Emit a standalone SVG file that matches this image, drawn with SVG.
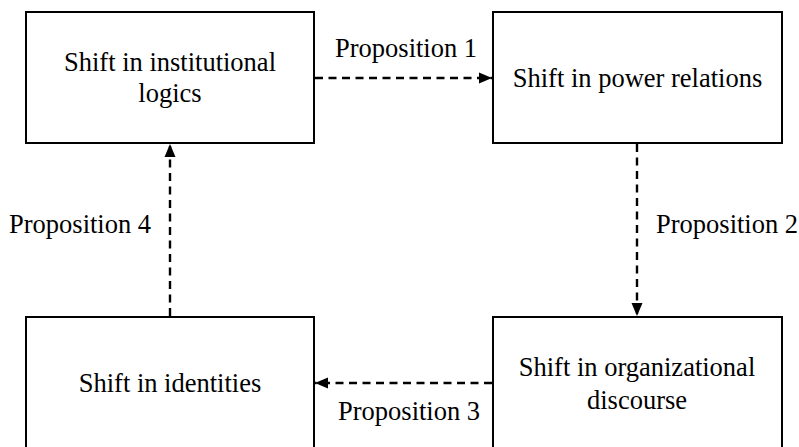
<svg xmlns="http://www.w3.org/2000/svg" width="799" height="447" viewBox="0 0 799 447">
<style>
.box{fill:#fff;stroke:#000;stroke-width:2}
.t{font-family:"Liberation Serif","Times New Roman",serif;font-size:26.5px;fill:#000}
.c{text-anchor:middle}
.e{stroke:#000;stroke-width:2.4;stroke-dasharray:8 5.5;fill:none}
</style>
<defs>
<marker id="ah" viewBox="0 0 13 12" refX="13" refY="6" markerWidth="13" markerHeight="12" markerUnits="userSpaceOnUse" orient="auto">
<path d="M0,0.5 L13,6 L0,11.5 Z" fill="#000"/>
</marker>
</defs>
<rect width="799" height="447" fill="#fff"/>
<g id="n1"><rect class="box" x="26" y="12" width="288" height="131"/>
<text class="t c" x="170" y="71">Shift in institutional</text>
<text class="t c" x="170" y="102">logics</text></g>
<g id="n2"><rect class="box" x="493" y="12" width="289" height="131"/>
<text class="t c" x="637.5" y="87">Shift in power relations</text></g>
<g id="n3"><rect class="box" x="493" y="317" width="289" height="140"/>
<text class="t c" x="637" y="376">Shift in organizational</text>
<text class="t c" x="637" y="409">discourse</text></g>
<g id="n4"><rect class="box" x="26" y="317" width="288" height="140"/>
<text class="t c" x="170" y="392">Shift in identities</text></g>
<g id="edges">
<path class="e" d="M315,78 H492" marker-end="url(#ah)"/>
<text class="t" x="335" y="57">Proposition 1</text>
<path class="e" d="M637,144 V316" marker-end="url(#ah)"/>
<text class="t" x="656" y="233">Proposition 2</text>
<path class="e" d="M492,383 H315" marker-end="url(#ah)"/>
<text class="t" x="338" y="420">Proposition 3</text>
<path class="e" d="M170,316 V144" marker-end="url(#ah)"/>
<text class="t" x="9" y="233">Proposition 4</text>
</g>
</svg>
